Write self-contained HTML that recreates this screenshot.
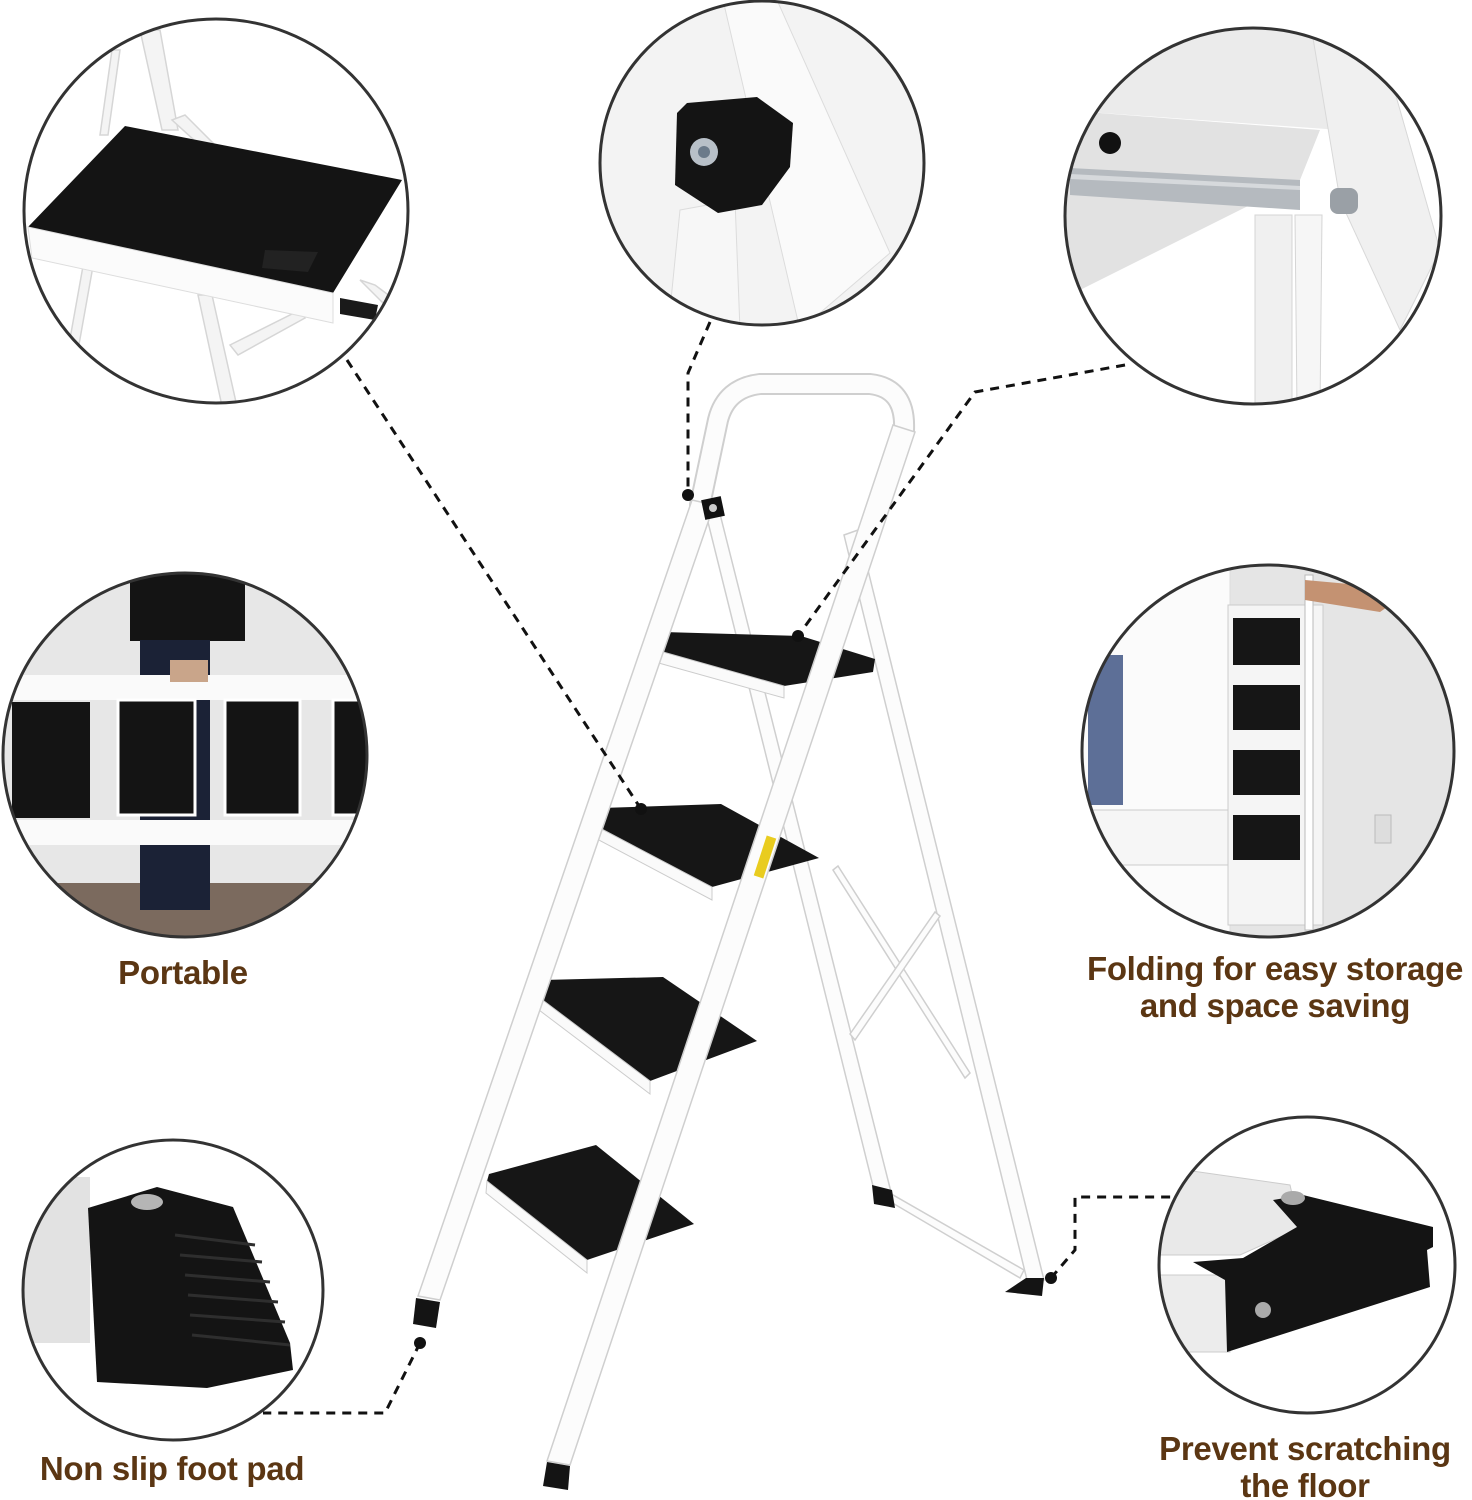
<!DOCTYPE html>
<html><head><meta charset="utf-8"><style>
html,body{margin:0;padding:0;background:#fff;}
.lbl{position:absolute;font-family:"Liberation Sans",sans-serif;font-weight:bold;color:#5b3613;font-size:33px;text-align:center;line-height:37px;white-space:nowrap;letter-spacing:-0.3px;}
</style></head><body>
<div style="position:relative;width:1472px;height:1500px;overflow:hidden;">
<svg width="1472" height="1500" viewBox="0 0 1472 1500" style="position:absolute;left:0;top:0">
<defs>
<clipPath id="c1"><circle cx="216" cy="211" r="192"/></clipPath>
<clipPath id="c2"><circle cx="762" cy="163" r="162"/></clipPath>
<clipPath id="c3"><circle cx="1253" cy="216" r="188"/></clipPath>
<clipPath id="c4"><circle cx="185" cy="755" r="182"/></clipPath>
<clipPath id="c5"><circle cx="1268" cy="751" r="186"/></clipPath>
<clipPath id="c6"><circle cx="173" cy="1290" r="150"/></clipPath>
<clipPath id="c7"><circle cx="1307" cy="1265" r="148"/></clipPath>
</defs>
<!-- circle 1 -->
<g clip-path="url(#c1)">
<rect x="0" y="0" width="420" height="420" fill="#fff"/>
<g fill="#f4f4f4" stroke="#d6d6d6" stroke-width="1.5">
<polygon points="140,30 160,30 178,130 162,130"/>
<polygon points="112,50 120,50 108,135 100,135"/>
<polygon points="172,120 185,115 220,150 205,150"/>
<polygon points="85,255 95,255 78,350 68,350"/>
<polygon points="198,295 212,295 240,420 225,420"/>
<polygon points="230,345 300,310 305,318 238,355"/>
<polygon points="360,280 375,285 395,300 385,305"/>
</g>
<polygon points="125,126 402,180 333,293 28,227" fill="#141414"/>
<polygon points="28,227 333,293 333,323 32,258" fill="#fbfbfb" stroke="#ddd"/>
<polygon points="265,250 318,252 308,272 262,268" fill="#222"/>
<polygon points="340,298 378,305 375,320 340,314" fill="#1a1a1a"/>
</g>
<circle cx="216" cy="211" r="192" fill="none" stroke="#333" stroke-width="3"/>
<!-- circle 2 -->
<g clip-path="url(#c2)">
<rect x="590" y="0" width="350" height="340" fill="#f3f3f3"/>
<polygon points="723,0 777,0 890,253 800,330" fill="#fafafa" stroke="#dcdcdc"/>
<polygon points="680,210 735,200 740,330 668,330" fill="#f7f7f7" stroke="#dcdcdc"/>
<polygon points="687,103 757,97 793,123 790,167 762,205 718,213 675,185 677,113" fill="#141414"/>
<circle cx="704" cy="152" r="14" fill="#b8c0c8"/><circle cx="704" cy="152" r="6" fill="#6b7a8a"/>
</g>
<circle cx="762" cy="163" r="162" fill="none" stroke="#333" stroke-width="3"/>
<!-- circle 3 -->
<g clip-path="url(#c3)">
<rect x="1060" y="20" width="400" height="400" fill="#fff"/>
<polygon points="1060,20 1320,20 1340,130 1060,110" fill="#ebebeb"/>
<polygon points="1060,110 1320,130 1300,180 1060,300" fill="#e2e2e2"/>
<polygon points="1310,20 1380,40 1440,250 1400,330 1340,200" fill="#f0f0f0" stroke="#d8d8d8"/>
<circle cx="1110" cy="143" r="11" fill="#111"/>
<polygon points="1070,168 1300,180 1300,210 1070,195" fill="#b5babf"/>
<polygon points="1070,174 1300,186 1300,190 1070,179" fill="#d6d9dc"/>
<rect x="1330" y="188" width="28" height="26" rx="8" fill="#9aa0a6"/>
<polygon points="1255,215 1292,215 1292,410 1255,410" fill="#f0f0f0" stroke="#d5d5d5"/>
<polygon points="1295,215 1322,215 1320,410 1297,410" fill="#f6f6f6" stroke="#d5d5d5"/>
</g>
<circle cx="1253" cy="216" r="188" fill="none" stroke="#333" stroke-width="3"/>
<!-- circle 4 -->
<g clip-path="url(#c4)">
<rect x="0" y="570" width="380" height="380" fill="#e7e7e7"/>
<rect x="0" y="883" width="380" height="70" fill="#7b6a5e"/>
<rect x="130" y="573" width="115" height="68" fill="#141414"/>
<rect x="140" y="640" width="70" height="270" fill="#1b2236"/>
<rect x="0" y="675" width="380" height="25" fill="#fafafa"/>
<rect x="0" y="820" width="380" height="25" fill="#fafafa"/>
<rect x="12" y="702" width="78" height="116" fill="#141414"/>
<rect x="118" y="700" width="77" height="115" fill="#141414" stroke="#fff" stroke-width="3"/>
<rect x="225" y="700" width="75" height="115" fill="#141414" stroke="#fff" stroke-width="3"/>
<rect x="333" y="700" width="40" height="115" fill="#141414" stroke="#fff" stroke-width="3"/>
<rect x="170" y="660" width="38" height="22" fill="#c9a58a"/>
</g>
<circle cx="185" cy="755" r="182" fill="none" stroke="#333" stroke-width="3"/>
<!-- circle 5 -->
<g clip-path="url(#c5)">
<rect x="1080" y="560" width="380" height="390" fill="#e5e5e5"/>
<rect x="1080" y="560" width="150" height="390" fill="#fbfbfb" stroke="#ddd"/>
<rect x="1088" y="655" width="35" height="150" fill="#5d6f97"/>
<rect x="1090" y="810" width="140" height="55" fill="#f6f6f6" stroke="#ccc"/>
<rect x="1228" y="605" width="95" height="320" fill="#f5f5f5" stroke="#ccc"/>
<rect x="1233" y="618" width="67" height="47" fill="#161616"/>
<rect x="1233" y="685" width="67" height="45" fill="#161616"/>
<rect x="1233" y="750" width="67" height="45" fill="#161616"/>
<rect x="1233" y="815" width="67" height="45" fill="#161616"/>
<rect x="1305" y="575" width="8" height="355" fill="#fff" stroke="#bbb"/>
<polygon points="1305,580 1360,585 1390,605 1380,612 1305,600" fill="#c49272"/>
<rect x="1375" y="815" width="16" height="28" fill="#ddd" stroke="#bbb"/>
</g>
<circle cx="1268" cy="751" r="186" fill="none" stroke="#333" stroke-width="3"/>
<!-- circle 6 -->
<g clip-path="url(#c6)">
<rect x="20" y="1138" width="310" height="310" fill="#fff"/>
<rect x="20" y="1177" width="70" height="166" fill="#e2e2e2"/>
<polygon points="88,1208 157,1187 233,1207 290,1343 293,1370 207,1388 97,1382" fill="#141414"/>
<g stroke="#2e2e2e" stroke-width="3">
<path d="M175 1235 L255 1245 M180 1255 L262 1262 M185 1275 L270 1282 M188 1295 L278 1302 M190 1315 L285 1322 M192 1335 L290 1345"/>
</g>
<ellipse cx="147" cy="1202" rx="16" ry="8" fill="#b5b5b5"/>
</g>
<circle cx="173" cy="1290" r="150" fill="none" stroke="#333" stroke-width="3"/>
<!-- circle 7 -->
<g clip-path="url(#c7)">
<rect x="1155" y="1115" width="305" height="305" fill="#fff"/>
<polygon points="1150,1165 1290,1185 1300,1228 1240,1255 1150,1255" fill="#e9e9e9" stroke="#ccc"/>
<rect x="1150" y="1275" width="80" height="77" fill="#ececec" stroke="#ccc"/>
<polygon points="1273,1200 1303,1195 1433,1227 1433,1247 1427,1250 1430,1287 1227,1352 1225,1280 1193,1262 1243,1258 1297,1227" fill="#141414"/>
<circle cx="1263" cy="1310" r="8" fill="#aaa"/>
<ellipse cx="1293" cy="1198" rx="12" ry="7" fill="#aaa"/>
</g>
<circle cx="1307" cy="1265" r="148" fill="none" stroke="#333" stroke-width="3"/>

<!-- ladder: rear legs -->
<g fill="#fcfcfc" stroke="#cfcfcf" stroke-width="1.5">
<polygon points="706,514 720,514 892,1196 876,1198"/>
<polygon points="844,535 858,530 1044,1280 1028,1284"/>
<polygon points="833,870 838,866 970,1073 965,1078"/>
<polygon points="850,1034 935,912 940,916 855,1040"/>
<polygon points="884,1198 888,1192 1024,1270 1020,1278"/>
</g>
<!-- treads -->
<g>
<polygon points="663,632 801,636 875,659 873,672 784,686 656,650" fill="#161616"/>
<polygon points="656,650 784,686 784,698 655,662" fill="#fafafa" stroke="#ccc"/>
<polygon points="601,808 721,804 819,858 712,887 596,826" fill="#161616"/>
<polygon points="596,826 712,887 712,900 595,838" fill="#fafafa" stroke="#ccc"/>
<polygon points="543,980 663,977 757,1041 650,1081 540,998" fill="#161616"/>
<polygon points="540,998 650,1081 650,1094 539,1010" fill="#fafafa" stroke="#ccc"/>
<polygon points="489,1174 596,1145 694,1224 587,1260 487,1181" fill="#161616"/>
<polygon points="487,1181 587,1260 587,1273 486,1193" fill="#fafafa" stroke="#ccc"/>
</g>
<!-- arch + front rails -->
<path d="M700 505 L718 420 Q726 388 760 384 L870 384 Q906 388 904 430" fill="none" stroke="#cfcfcf" stroke-width="22" stroke-linecap="round"/>
<path d="M700 505 L718 420 Q726 388 760 384 L870 384 Q906 388 904 430" fill="none" stroke="#fcfcfc" stroke-width="18" stroke-linecap="round"/>
<g fill="#fcfcfc" stroke="#cfcfcf" stroke-width="1.5">
<polygon points="692,500 714,505 440,1300 418,1296"/>
<polygon points="893,425 915,432 570,1465 547,1461"/>
</g>
<rect x="703" y="498" width="20" height="20" fill="#111" transform="rotate(-12 713 508)"/>
<circle cx="713" cy="508" r="4" fill="#ccc"/>
<rect x="760" y="836" width="10" height="42" fill="#e9cc1f" transform="rotate(18 765 857)"/>
<!-- feet -->
<polygon points="416,1298 440,1302 436,1328 413,1324" fill="#141414"/>
<polygon points="547,1462 570,1466 568,1490 543,1486" fill="#141414"/>
<polygon points="1026,1278 1044,1278 1042,1296 1005,1292" fill="#141414"/>
<polygon points="872,1185 892,1190 895,1208 874,1204" fill="#141414"/>

<!-- dashed connectors -->
<g stroke="#111" stroke-width="3" stroke-dasharray="9,7" fill="none">
<path d="M347 360 L641 809"/>
<path d="M710 322 L688 373 L688 495"/>
<path d="M1125 365 L975 392 L798 636"/>
<path d="M420 1343 L385 1413 L263 1413"/>
<path d="M1051 1278 L1075 1250 L1075 1197 L1172 1197"/>
</g>
<g fill="#111"><circle cx="641" cy="809" r="6"/><circle cx="688" cy="495" r="6"/><circle cx="798" cy="636" r="6"/><circle cx="420" cy="1343" r="6"/><circle cx="1051" cy="1278" r="6"/></g>
</svg>
<div class="lbl" style="left:83px;top:954px;width:200px;">Portable</div>
<div class="lbl" style="left:1070px;top:950px;width:410px;">Folding for easy storage<br>and space saving</div>
<div class="lbl" style="left:22px;top:1450px;width:300px;">Non slip foot pad</div>
<div class="lbl" style="left:1140px;top:1430px;width:330px;">Prevent scratching<br>the floor</div>
</div>
</body></html>
